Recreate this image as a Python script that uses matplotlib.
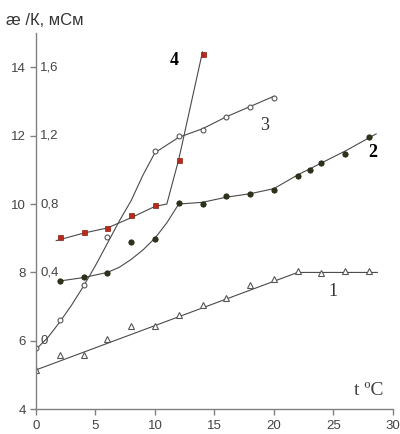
import matplotlib
matplotlib.use("Agg")
import matplotlib.pyplot as plt

# curve 1 (open triangles)
x1 = [0, 2, 4, 6, 8, 10, 12, 14, 16, 18, 20, 22, 24, 26, 28]
y1 = [5.15, 5.58, 5.58, 6.05, 6.43, 6.43, 6.76, 7.04, 7.24, 7.62, 7.8, 8.03, 7.98, 8.03, 8.03]
line1_x = [0, 22, 28.7]
line1_y = [5.15, 8.0, 8.0]

# curve 2 (filled dark circles)
x2 = [2, 4, 6, 8, 10, 12, 14, 16, 18, 20, 22, 23, 24, 26, 28]
y2 = [7.75, 7.87, 7.97, 8.88, 8.98, 10.03, 10.0, 10.22, 10.3, 10.42, 10.82, 10.98, 11.2, 11.45, 11.95]
line2_x = [2, 4, 6, 7, 8, 9, 10, 11, 12, 14, 16, 18, 20, 22, 24, 26, 28.6]
line2_y = [7.75, 7.85, 8.0, 8.15, 8.38, 8.66, 9.0, 9.45, 10.0, 10.05, 10.2, 10.3, 10.45, 10.85, 11.2, 11.55, 12.05]

# curve 3 (open circles)
x3 = [0, 2, 4, 6, 10, 12, 14, 16, 18, 20]
y3 = [5.8, 6.6, 7.64, 9.05, 11.55, 12.0, 12.15, 12.55, 12.85, 13.1]
line3_x = [0, 1, 2, 3, 4, 5, 6, 7, 8, 9, 10, 12, 14, 16, 18, 20]
line3_y = [5.75, 6.1, 6.55, 7.05, 7.6, 8.2, 8.85, 9.5, 10.1, 10.85, 11.5, 11.95, 12.2, 12.55, 12.85, 13.15]

# curve 4 (filled red squares)
x4 = [2, 4, 6, 8, 10, 12, 14]
y4 = [9.03, 9.18, 9.3, 9.67, 9.96, 11.3, 14.4]
line4_x = [1.7, 4, 6, 8, 10, 11, 12, 14]
line4_y = [8.93, 9.15, 9.3, 9.6, 9.93, 10.0, 11.3, 14.45]

x_ticks = [0, 5, 10, 15, 20, 25, 30]
y_ticks = [4, 6, 8, 10, 12, 14]
inner_y = [6, 8, 10, 12, 14]
inner_labels = ["0", "0,4", "0,8", "1,2", "1,6"]

line_col = "#4a4a4a"
axis_col = "#808080"

fig = plt.figure(figsize=(4, 4.34), dpi=100)
ax = fig.add_axes([0.09, 0.057, 0.892, 0.867])

ax.plot(line1_x, line1_y, color=line_col, lw=0.8)
ax.plot(x1, y1, "^", ms=3.8, mfc="white", mec="#555555", mew=0.8)

ax.plot(line2_x, line2_y, color=line_col, lw=0.8)
ax.plot(x2, y2, "o", ms=3.8, mfc="#2b3519", mec="#1e2410", mew=0.6)

ax.plot(line3_x, line3_y, color=line_col, lw=0.8)
ax.plot(x3, y3, "o", ms=3.5, mfc="white", mec="#555555", mew=0.8)

ax.plot(line4_x, line4_y, color=line_col, lw=0.8)
ax.plot(x4, y4, "s", ms=3.6, mfc="#b82a1c", mec="#8a1f12", mew=0.5)

ax.set_xlim(0, 30)
ax.set_ylim(4, 15)
ax.set_xticks(x_ticks)
ax.set_yticks(y_ticks)

for s in ["top", "right"]:
    ax.spines[s].set_visible(False)
for s in ["left", "bottom"]:
    ax.spines[s].set_color(axis_col)
    ax.spines[s].set_linewidth(1.0)
ax.tick_params(colors=axis_col, labelcolor="#444444", labelsize=9.5, length=4, width=1.0)

tick_font = "Liberation Sans"
for lab in ax.get_xticklabels() + ax.get_yticklabels():
    lab.set_fontfamily(tick_font)

for yv, t in zip(inner_y, inner_labels):
    ax.text(0.35, yv, t, ha="left", va="center", fontsize=9.5, color="#444444", family=tick_font)

serif = "Liberation Serif"
ax.text(11.6, 14.2, "4", fontsize=13, fontweight="bold", family=serif, ha="center", va="center")
ax.text(19.2, 12.3, "3", fontsize=13, family=serif, ha="center", va="center", color="#333333")
ax.text(28.3, 11.5, "2", fontsize=13, fontweight="bold", family=serif, ha="center", va="center")
ax.text(25.0, 7.45, "1", fontsize=13, family=serif, ha="center", va="center", color="#333333")
ax.text(28.0, 4.55, "t \u00baC", fontsize=14, family=serif, ha="center", va="center", color="#444444")

fig.text(0.015, 0.952, "\u00e6 /К, мСм", fontsize=12, family=tick_font, ha="left", va="center", color="#333333")

fig.savefig("out.png", dpi=100)
